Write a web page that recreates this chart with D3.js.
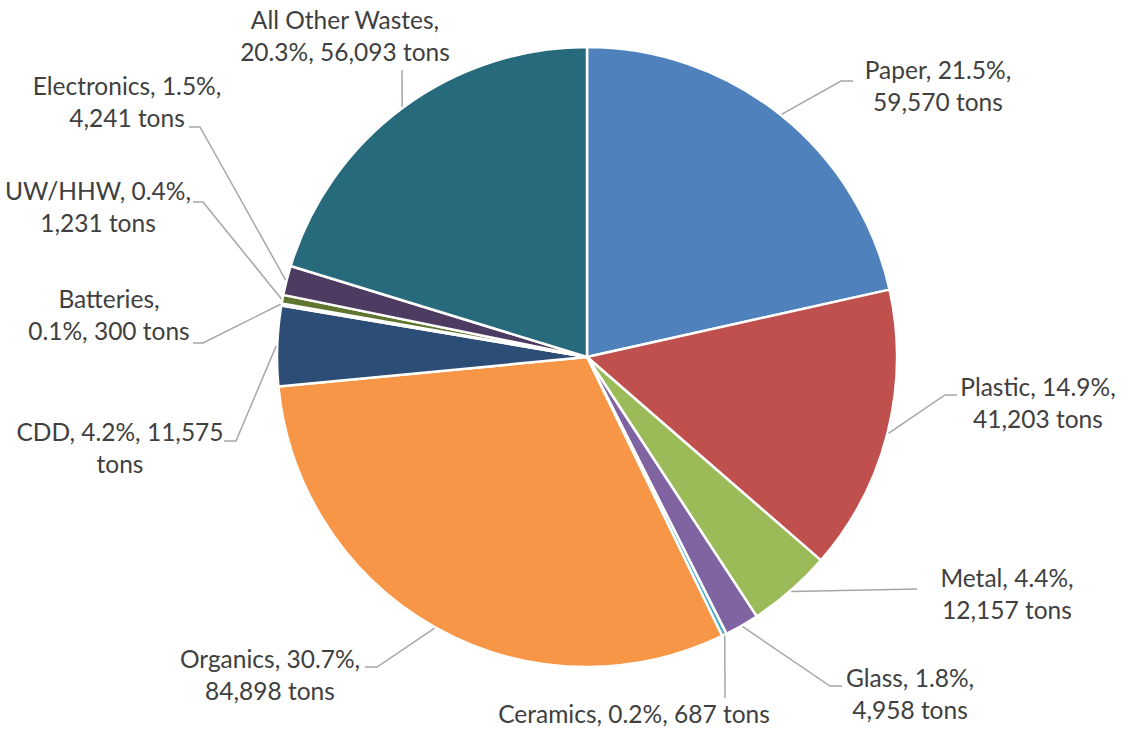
<!DOCTYPE html>
<html>
<head>
<meta charset="utf-8">
<script src="https://cdn.jsdelivr.net/npm/d3@7"></script>
<style>
  body { margin: 0; background: #fff; }
  svg text { font-family: Lato, "Open Sans", sans-serif; fill: #404040; }
</style>
</head>
<body>
<div id="vis"></div>
<script>
// waste categories, clockwise from 12 o'clock
var categories = ["Paper", "Plastic", "Metal", "Glass", "Ceramics", "Organics",
	"CDD", "Batteries", "UW/HHW", "Electronics", "All Other Wastes"];
var tons = [59570, 41203, 12157, 4958, 687, 84898, 11575, 300, 1231, 4241, 56093];
var colors = ["#4F81BD", "#C0504D", "#9BBB59", "#8064A2", "#4BACC6", "#F79646",
	"#2C4D75", "#772C2A", "#5F7530", "#4D3B62", "#276A7C"];

// where each label sits: text centre, first baseline, words on first line,
// leader end point and elbow offset
var labelLayout = {
	"Paper":            { cx: 938,  y: 79,  split: 2, ex: 853, ey: 81,  elbow: -12 },
	"Plastic":          { cx: 1038, y: 396, split: 2, ex: 957, ey: 395, elbow: -12 },
	"Metal":            { cx: 1007, y: 587, split: 2, ex: 917, ey: 589, elbow: 0 },
	"Glass":            { cx: 910,  y: 687, split: 2, ex: 842, ey: 686, elbow: -12 },
	"Ceramics":         { cx: 634,  y: 723, split: 99, ex: 725, ey: 698, elbow: 0 },
	"Organics":         { cx: 270,  y: 668, split: 2, ex: 365, ey: 667, elbow: 12 },
	"CDD":              { cx: 120,  y: 441, split: 3, ex: 224, ey: 441, elbow: 12 },
	"Batteries":        { cx: 109,  y: 308, split: 1, ex: 193, ey: 343, elbow: 10 },
	"UW/HHW":           { cx: 98,   y: 200, split: 2, ex: 193, ey: 202, elbow: 10 },
	"Electronics":      { cx: 127,  y: 95,  split: 2, ex: 189, ey: 127, elbow: 11 },
	"All Other Wastes": { cx: 345,  y: 29,  split: 3, ex: 402, ey: 70,  elbow: 0 }
};

var width = 1121;
var height = 731;
var cx = 587, cy = 357, radius = 310;
var lineHeight = 32;

var myData = categories.map(function (c, i) {
	return { name: c, value: tons[i], color: colors[i] };
});
var total = d3.sum(tons);
var fmtPct = d3.format(".1f");
var fmtNum = d3.format(",");

var svg = d3.select('#vis').append('svg')
	.attr('width', width)
	.attr('height', height);

var g = svg.append('g').attr('transform', 'translate(' + cx + ',' + cy + ')');

var pie = d3.pie()
	.sort(null)
	.value(function (d) { return d.value; });

var arc = d3.arc()
	.innerRadius(0)
	.outerRadius(radius);

var arcs = pie(myData);

g.selectAll('.slice')
	.data(arcs)
	.enter().append('path')
	.attr('class', 'slice')
	.attr('d', arc)
	.attr('fill', function (d) { return d.data.color; })
	.attr('stroke', '#fff')
	.attr('stroke-width', 2.5)
	.attr('stroke-linejoin', 'round');

// leader lines
svg.selectAll('.leader')
	.data(arcs)
	.enter().append('polyline')
	.attr('class', 'leader')
	.attr('fill', 'none')
	.attr('stroke', '#A6A6A6')
	.attr('stroke-width', 1.5)
	.attr('points', function (d) {
		var L = labelLayout[d.data.name];
		var a = (d.startAngle + d.endAngle) / 2;
		var sx = cx + (radius + 1) * Math.sin(a);
		var sy = cy - (radius + 1) * Math.cos(a);
		var pts = [[sx, sy]];
		if (L.elbow !== 0) pts.push([L.ex + L.elbow, L.ey]);
		pts.push([L.ex, L.ey]);
		return pts.map(function (p) { return p.join(','); }).join(' ');
	});

// data labels
var labels = svg.selectAll('.label')
	.data(arcs)
	.enter().append('text')
	.attr('class', 'label')
	.attr('text-anchor', 'middle')
	.style('font-size', '24.5px');

labels.each(function (d) {
	var L = labelLayout[d.data.name];
	var pct = fmtPct(d.data.value / total * 100) + '%';
	var words = (d.data.name + ', ' + pct + ', ' + fmtNum(d.data.value) + ' tons').split(' ');
	var lines = [words.slice(0, L.split).join(' ')];
	if (L.split < words.length) lines.push(words.slice(L.split).join(' '));
	var t = d3.select(this);
	lines.forEach(function (ln, i) {
		t.append('tspan')
			.attr('x', L.cx)
			.attr('y', L.y + i * lineHeight)
			.text(ln);
	});
});
</script>
</body>
</html>
